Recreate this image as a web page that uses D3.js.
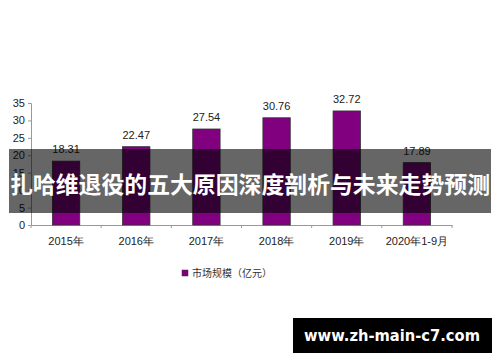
<!DOCTYPE html>
<html>
<head>
<meta charset="utf-8">
<script src="https://cdn.jsdelivr.net/npm/d3@7"></script>
<style>
  body { margin: 0; background: #fff; }
  svg { display: block; }
</style>
</head>
<body>
<svg id="chart" width="500" height="362"></svg>
<script>
var categories = ['2015年', '2016年', '2017年', '2018年', '2019年', '2020年1-9月'];
var values = [18.31, 22.47, 27.54, 30.76, 32.72, 17.89];
var yTicks = [0, 5, 10, 15, 20, 25, 30, 35];
var legendLabel = '市场规模（亿元）';
var bannerText = '扎哈维退役的五大原因深度剖析与未来走势预测';
var siteText = 'www.zh-main-c7.com';

var svg = d3.select('#chart');
// plot area (note: "top" is taken by window.top)
var plotLeft = 31, plotRight = 452, plotTop = 103, plotBottom = 225;

var x = d3.scaleBand().domain(categories).range([plotLeft, plotRight]).paddingInner(0).paddingOuter(0);
var y = d3.scaleLinear().domain([0, 35]).range([plotBottom, plotTop]);

// y axis
var yAxis = svg.append('g')
  .attr('transform', 'translate(' + plotLeft + ',0)')
  .call(d3.axisLeft(y).tickValues(yTicks).tickSize(3).tickPadding(3));
yAxis.selectAll('path, line').attr('stroke', '#999');
yAxis.selectAll('text').attr('font-family', 'Liberation Sans, Arial, sans-serif')
  .attr('font-size', 11).attr('fill', '#222');

// x axis
var xAxis = svg.append('g')
  .attr('transform', 'translate(0,' + plotBottom + ')')
  .call(d3.axisBottom(x).tickSize(0).tickPadding(12));
xAxis.select('path').attr('stroke', '#999');
xAxis.selectAll('text').attr('font-family', 'Liberation Sans, Arial, sans-serif')
  .attr('font-size', 11).attr('fill', '#222');
// category separators
svg.append('g').selectAll('line')
  .data(categories.concat(['end']))
  .join('line')
  .attr('x1', function(d, i) { return plotLeft + i * x.step(); })
  .attr('x2', function(d, i) { return plotLeft + i * x.step(); })
  .attr('y1', plotBottom).attr('y2', plotBottom + 3)
  .attr('stroke', '#999');

// bars
var bw = x.bandwidth() * 0.39;
svg.append('g').selectAll('rect')
  .data(values)
  .join('rect')
  .attr('x', function(d, i) { return x(categories[i]) + (x.bandwidth() - bw) / 2; })
  .attr('y', function(d) { return y(d); })
  .attr('width', bw)
  .attr('height', function(d) { return plotBottom - y(d); })
  .attr('fill', '#800080')
  .attr('stroke', '#333')
  .attr('stroke-width', 0.8);

svg.append('g').selectAll('text')
  .data(values)
  .join('text')
  .attr('x', function(d, i) { return x(categories[i]) + x.bandwidth() / 2; })
  .attr('y', function(d) { return y(d) - 8; })
  .attr('text-anchor', 'middle')
  .attr('font-family', 'Liberation Sans, Arial, sans-serif')
  .attr('font-size', 11)
  .attr('fill', '#222')
  .text(function(d) { return d.toFixed(2); });

// legend
svg.append('rect').attr('x', 182).attr('y', 270).attr('width', 6).attr('height', 6)
  .attr('fill', '#800080').attr('stroke', '#333').attr('stroke-width', 0.5);
svg.append('text').attr('x', 192).attr('y', 277)
  .attr('font-family', 'Noto Sans CJK SC, sans-serif').attr('font-size', 10).attr('fill', '#333')
  .text(legendLabel);

// banner overlay
svg.append('rect').attr('x', 9).attr('y', 149).attr('width', 482).attr('height', 64)
  .attr('fill', '#000').attr('opacity', 0.6);
svg.append('text').attr('x', 250).attr('y', 193)
  .attr('text-anchor', 'middle')
  .attr('font-family', 'Noto Sans CJK SC, sans-serif').attr('font-weight', 'bold')
  .attr('font-size', 23).attr('fill', '#fff')
  .attr('textLength', 480).attr('lengthAdjust', 'spacingAndGlyphs')
  .text(bannerText);

// site box
svg.append('rect').attr('x', 293).attr('y', 318).attr('width', 199).attr('height', 35).attr('fill', '#000');
svg.append('text').attr('x', 392).attr('y', 341)
  .attr('text-anchor', 'middle')
  .attr('font-family', 'DejaVu Sans, sans-serif').attr('font-weight', 'bold')
  .attr('font-size', 15).attr('fill', '#fff')
  .attr('textLength', 176).attr('lengthAdjust', 'spacingAndGlyphs')
  .text(siteText);
</script>
</body>
</html>
